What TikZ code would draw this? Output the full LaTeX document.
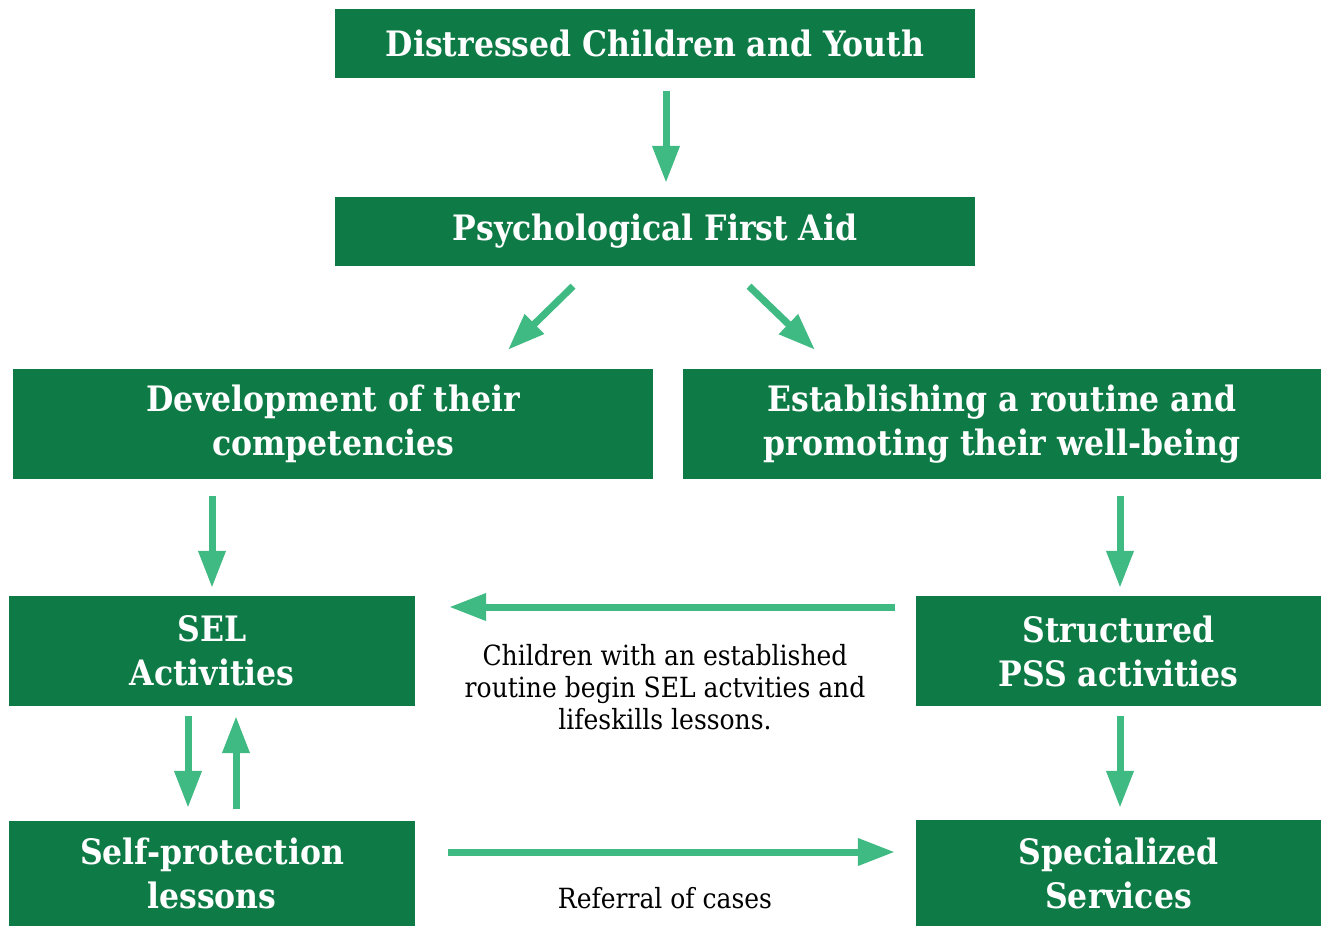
\documentclass[tikz,border=0pt]{standalone}
\usepackage{fontspec}
\usetikzlibrary{arrows.meta}
\newfontfamily\headfont{DejaVu Serif Condensed}
\newfontfamily\bodyfont{DejaVu Serif Condensed}
\definecolor{boxgreen}{HTML}{0E7A46}
\definecolor{arrowgreen}{HTML}{40BA83}
\tikzset{
  box/.style={fill=boxgreen, text=white, inner sep=0pt, align=center,
    font=\headfont\bfseries\fontsize{35}{44}\selectfont},
  arr/.style={draw=arrowgreen, line width=7pt,
    -{Triangle[length=37pt,width=26pt]}},
  note/.style={align=center, inner sep=0pt, text=black,
    font=\bodyfont\fontsize{27.8}{32}\selectfont}
}
\begin{document}
\begin{tikzpicture}[x=1pt,y=-1pt]
\useasboundingbox (0,0) rectangle (1322,927);
\node[box, minimum width=640pt, minimum height=69pt] (d) at (655,43.5) {Distressed Children and Youth};
\node[box, minimum width=640pt, minimum height=69pt] (p) at (655,231.5) {Psychological First Aid};
\node[box, minimum width=640pt, minimum height=110pt] (dev) at (333,424) {Development of their\\competencies};
\node[box, minimum width=638pt, minimum height=110pt] (est) at (1002,424) {Establishing a routine and\\promoting their well-being};
\node[box, minimum width=406pt, minimum height=110pt] (sel) at (212,651) {SEL\\Activities};
\node[box, minimum width=405pt, minimum height=110pt] (pss) at (1118.5,651) {Structured\\PSS activities};
\node[box, minimum width=406pt, minimum height=105pt] (self) at (212,873.5) {Self-protection\\lessons};
\node[box, minimum width=405pt, minimum height=106pt] (spec) at (1118.5,873) {Specialized\\Services};
\node[note] (n1) at (665,687) {Children with an established\\routine begin SEL actvities and\\lifeskills lessons.};
\node[note] (n2) at (665,898) {Referral of cases};
\draw[arr] ([xshift=11pt,yshift=-13pt]d.south) -- ([xshift=11pt,yshift=14pt]p.north);
\draw[arr] ([xshift=-82pt,yshift=-20pt]p.south) -- ([xshift=175pt,yshift=19pt]dev.north);
\draw[arr] ([xshift=94pt,yshift=-20pt]p.south) -- ([xshift=-187pt,yshift=19pt]est.north);
\draw[arr] ([xshift=-121pt,yshift=-17pt]dev.south) -- ([yshift=8pt]sel.north);
\draw[arr] ([xshift=118pt,yshift=-17pt]est.south) -- ([xshift=1.5pt,yshift=8pt]pss.north);
\draw[arr] ([xshift=-21pt,yshift=44pt]pss.west) -- ([xshift=34pt,yshift=44pt]sel.east);
\draw[arr] ([xshift=-24pt,yshift=-10pt]sel.south) -- ([xshift=-24pt,yshift=13pt]self.north);
\draw[arr] ([xshift=24pt,yshift=12pt]self.north) -- ([xshift=24pt,yshift=-10pt]sel.south);
\draw[arr] ([xshift=1.5pt,yshift=-10pt]pss.south) -- ([xshift=1.5pt,yshift=12pt]spec.north);
\draw[arr] ([xshift=33pt,yshift=21.5pt]self.east) -- ([xshift=-21pt,yshift=21pt]spec.west);
\end{tikzpicture}
\end{document}
